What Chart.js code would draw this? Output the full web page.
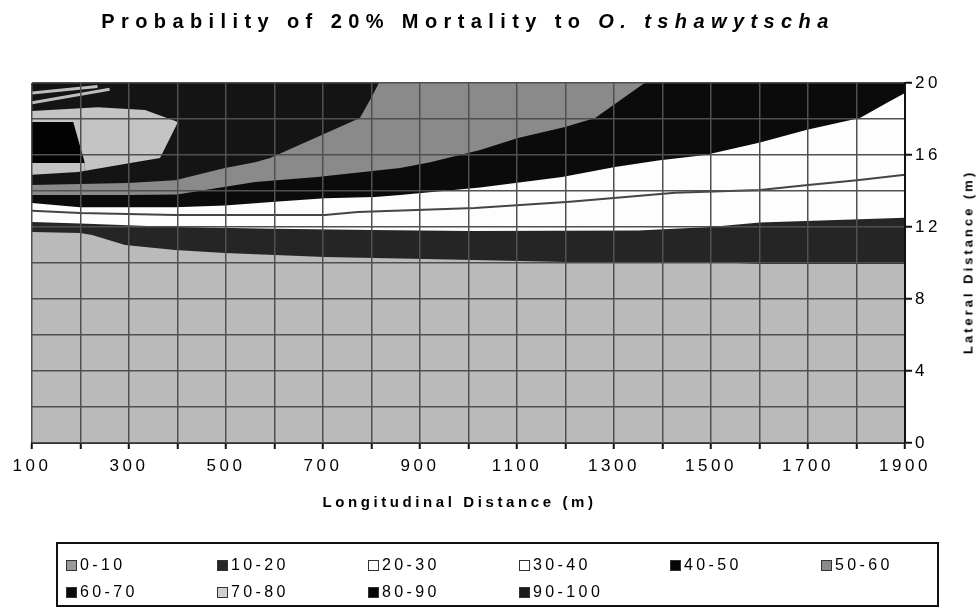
<!DOCTYPE html>
<html>
<head>
<meta charset="utf-8">
<script src="https://cdn.jsdelivr.net/npm/chart.js@4.4.1/dist/chart.umd.min.js"></script>
<style>
html,body{margin:0;padding:0;background:#fff;}
#wrap{position:relative;width:979px;height:612px;overflow:hidden;font-family:"Liberation Sans",Arial,sans-serif;color:#000;}
#c{position:absolute;left:0;top:0;}
#title{position:absolute;left:0;width:930px;top:10px;text-align:center;font-weight:bold;font-size:20px;letter-spacing:6.4px;padding-left:6px;box-sizing:border-box;white-space:nowrap;}
#xtitle{position:absolute;left:0;width:915px;top:493px;text-align:center;font-weight:bold;font-size:15px;letter-spacing:3.6px;padding-left:4px;box-sizing:border-box;}
#ytitle{position:absolute;left:968px;top:262px;transform:translate(-50%,-50%) rotate(-90deg);white-space:nowrap;font-weight:bold;font-size:13px;letter-spacing:3px;}
#legend{position:absolute;left:56px;top:542px;width:883px;height:65px;border:2px solid #111;box-sizing:border-box;}
.item{position:absolute;display:flex;align-items:center;font-size:16px;letter-spacing:3.4px;line-height:18px;}
.sw{width:9px;height:9px;border:1px solid #333;margin-right:3px;flex:none;}
</style>
</head>
<body>
<div id="wrap">
  <canvas id="c" width="979" height="612"></canvas>
  <div id="title">Probability of 20% Mortality to <i>O. tshawytscha</i></div>
  <div id="xtitle">Longitudinal Distance (m)</div>
  <div id="ytitle">Lateral Distance (m)</div>
  <div id="legend"></div>
</div>
<script>
// ---- categories & tick labels ----
const categories = ['0-10','10-20','20-30','30-40','40-50','50-60','60-70','70-80','80-90','90-100'];
const xTickLabels = ['100','300','500','700','900','1100','1300','1500','1700','1900'];
const yTickLabels = ['0','4','8','12','16','20'];

// ---- contour boundaries: [longitudinal m, lateral m] ----
const topEdge      = [[100,20],[1900,20]];
const islandTop    = [[100,18.45],[236,18.65],[333,18.5],[401,17.83]];
const blockTop     = [[100,17.83],[185,17.83],[209,15.55]];
const blockBottom  = [[100,15.55],[209,15.55]];
const islandBottom = [[100,14.9],[195,15.06],[312,15.6],[364,15.83],[401,17.83]];
const grayTop      = [[100,14.33],[298,14.44],[395,14.6],[498,15.28],[560,15.6],[591,15.83],[776,18.05],[797,19.05],[811,19.78],[815,20],[1900,20]];
const grayBottom   = [[100,13.78],[298,13.78],[399,13.8],[560,14.5],[688,14.78],[859,15.28],[921,15.6],[1024,16.28],[1102,16.94],[1199,17.56],[1261,18.06],[1358,19.9],[1364,20],[1900,20]];
const whiteTop     = [[100,13.33],[199,13.1],[395,13.1],[498,13.2],[601,13.4],[704,13.6],[807,13.67],[859,13.78],[1024,14.2],[1193,14.78],[1302,15.33],[1391,15.7],[1488,16.0],[1601,16.7],[1698,17.4],[1807,18.06],[1863,18.9],[1900,19.45]];
const darkTop      = [[100,12.28],[199,12.2],[395,12.0],[600,11.9],[800,11.83],[1000,11.78],[1350,11.8],[1498,12.0],[1601,12.25],[1900,12.52]];
const darkBottom   = [[100,11.72],[199,11.67],[224,11.55],[292,11.0],[395,10.72],[498,10.56],[601,10.44],[704,10.33],[1013,10.17],[1200,10.06],[1498,10.05],[1601,9.94],[1900,9.94]];
const innerLine    = [[100,12.9],[199,12.78],[395,12.67],[704,12.67],[772,12.83],[1013,13.05],[1209,13.4],[1426,13.9],[1601,14.05],[1700,14.33],[1801,14.6],[1900,14.9]];
const stripeA      = [[100,19.45],[235,19.8]];
const stripeB      = [[100,18.9],[260,19.65]];

// ---- styles ----
const legendColors = ['#9a9a9a','#262626','#ffffff','#ffffff','#050505','#8a8a8a','#0a0a0a','#cfcfcf','#050505','#1c1c1c'];
// paint order: first painted first (later layers cover lower parts)
const fillLayers = [
  [topEdge,      '#141414'],
  [islandTop,    '#c4c4c4'],
  [blockTop,     '#020202'],
  [blockBottom,  '#c4c4c4'],
  [islandBottom, '#141414'],
  [grayTop,      '#8a8a8a'],
  [grayBottom,   '#0b0b0b'],
  [whiteTop,     '#fdfdfd'],
  [darkTop,      '#252525'],
  [darkBottom,   '#bababa']
];
const lineLayers = [
  [innerLine, '#444444', 2],
  [stripeA,   '#bdbdbd', 3],
  [stripeB,   '#bdbdbd', 3]
];

const toXY = pts => pts.map(p => ({x: p[0], y: p[1]}));
const total = fillLayers.length + lineLayers.length;
const datasets = [];
fillLayers.forEach((l, i) => {
  datasets.push({data: toXY(l[0]), fill: 'start', backgroundColor: l[1], borderColor: 'transparent',
    borderWidth: 0, pointRadius: 0, tension: 0, order: total - i});
});
lineLayers.forEach((l, i) => {
  datasets.push({data: toXY(l[0]), fill: false, borderColor: l[1], borderWidth: l[2],
    pointRadius: 0, tension: 0, order: total - fillLayers.length - i});
});

const spacing = {id: 'spacing', beforeDraw(chart) { chart.ctx.letterSpacing = '3.5px'; }};

new Chart(document.getElementById('c'), {
  type: 'line',
  data: {datasets},
  plugins: [spacing],
  options: {
    responsive: false, animation: false, devicePixelRatio: 1,
    layout: {padding: {left: 32, top: 83, right: 0, bottom: 129}},
    plugins: {legend: {display: false}, tooltip: {enabled: false}, title: {display: false}},
    scales: {
      x: {
        type: 'linear', min: 100, max: 1900,
        ticks: {stepSize: 100, autoSkip: false, maxRotation: 0, minRotation: 0, color: '#000', padding: 7, z: 1,
          font: {family: '"Liberation Sans", Arial', size: 17},
          callback: v => xTickLabels.includes(String(v)) ? String(v) : ''},
        grid: {color: '#505050', lineWidth: 1.5, tickLength: 6, tickColor: '#111', tickWidth: 2, z: 1},
        border: {display: true, color: '#111', width: 2, z: 1},
        afterFit: s => { s.height = 40; }
      },
      y: {
        type: 'linear', position: 'right', min: 0, max: 20,
        ticks: {stepSize: 2, autoSkip: false, color: '#000', padding: 3, z: 1,
          font: {family: '"Liberation Sans", Arial', size: 17},
          callback: v => yTickLabels.includes(String(v)) ? String(v) : ''},
        grid: {color: '#505050', lineWidth: 1.5, tickLength: 7, tickWidth: 2, z: 1,
          tickColor: c => (c.tick && yTickLabels.includes(String(c.tick.value))) ? '#111' : 'rgba(0,0,0,0)'},
        border: {display: true, color: '#111', width: 2, z: 1},
        afterFit: s => { s.width = 74; }
      }
    }
  }
});

// ---- legend (HTML, built from categories) ----
const lg = document.getElementById('legend');
categories.forEach((cat, i) => {
  const col = i % 6, row = Math.floor(i / 6);
  const d = document.createElement('div');
  d.className = 'item';
  d.style.left = (8 + col * 151) + 'px';
  d.style.top = (12 + row * 27) + 'px';
  const s = document.createElement('span');
  s.className = 'sw';
  s.style.background = legendColors[i];
  d.appendChild(s);
  d.appendChild(document.createTextNode(cat));
  lg.appendChild(d);
});
</script>
</body>
</html>
